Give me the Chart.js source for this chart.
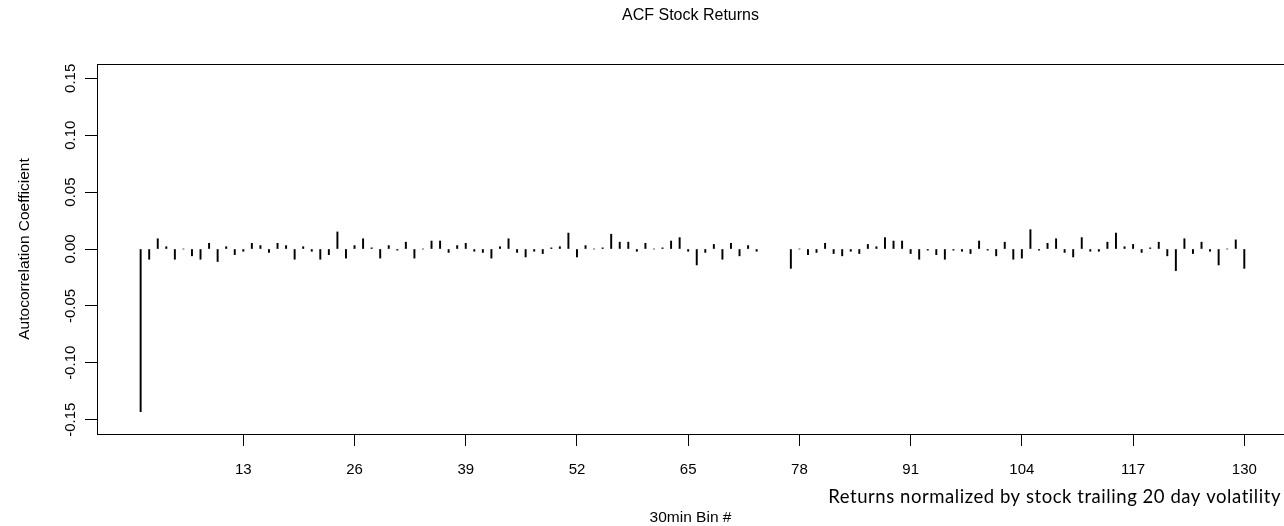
<!DOCTYPE html>
<html>
<head>
<meta charset="utf-8">
<script src="https://cdn.jsdelivr.net/npm/chart.js@4.4.1/dist/chart.umd.min.js"></script>
<style>
  html, body { margin: 0; padding: 0; background: #fff; }
  #wrap { width: 1284px; height: 526px; overflow: hidden; }
</style>
</head>
<body>
<div id="wrap"><canvas id="acf" width="1284" height="526"></canvas></div>
<script>
// Lag index (30-minute bins) and sample autocorrelation at each lag
const lags = Array.from({ length: 130 }, (_, i) => i + 1);
const acf = [
  -0.143, -0.009,  0.009,  0.002, -0.009,  0.000, -0.006, -0.009,  0.005, -0.011,
   0.002, -0.005, -0.002,  0.005,  0.003, -0.003,  0.005,  0.003, -0.009,  0.002,
  -0.002, -0.009, -0.005,  0.015, -0.008,  0.003,  0.009,  0.001, -0.008,  0.003,
  -0.001,  0.006, -0.008,  0.000,  0.007,  0.007, -0.003,  0.003,  0.005, -0.002,
  -0.003, -0.008,  0.002,  0.009, -0.003, -0.007, -0.002, -0.004,  0.001,  0.002,
   0.014, -0.007,  0.003,  0.000,  0.001,  0.013,  0.006,  0.006, -0.002,  0.005,
   0.000,  0.001,  0.007,  0.010, -0.002, -0.014, -0.003,  0.004, -0.009,  0.005,
  -0.006,  0.003, -0.002,   null,   null,   null, -0.017,  0.000, -0.005, -0.003,
   0.005, -0.004, -0.006, -0.002, -0.004,  0.004,  0.002,  0.010,  0.007,  0.007,
  -0.004, -0.009, -0.001, -0.005, -0.009, -0.001, -0.002, -0.004,  0.007, -0.001,
  -0.006,  0.006, -0.009, -0.008,  0.017, -0.001,  0.005,  0.009, -0.003, -0.007,
   0.010, -0.002, -0.002,  0.006,  0.014,  0.002,  0.004, -0.003,  0.001,  0.006,
  -0.006, -0.019,  0.009, -0.004,  0.006, -0.002, -0.014,  0.000,  0.008, -0.017
];
const xTicks = [13, 26, 39, 52, 65, 78, 91, 104, 117, 130];
const yTicks = [-0.15, -0.10, -0.05, 0.00, 0.05, 0.10, 0.15];

const chartTitle = 'ACF Stock Returns';
const xTitle = '30min Bin #';
const yTitle = 'Autocorrelation Coefficient';
const note = 'Returns normalized by stock trailing 20 day volatility';

const baseFont = 'Liberation Sans, Arial, sans-serif';

// Frame around the plotting region plus the footnote
const framePlugin = {
  id: 'frame',
  afterDraw(chart) {
    const { ctx, chartArea: a } = chart;
    ctx.save();
    ctx.strokeStyle = '#000';
    ctx.lineWidth = 1;
    ctx.strokeRect(Math.round(a.left) + 0.5, Math.round(a.top) + 0.5,
                   Math.round(a.right - a.left), Math.round(a.bottom - a.top));
    ctx.fillStyle = '#000';
    ctx.font = '18.5px Lato, sans-serif';
    if ('letterSpacing' in ctx) ctx.letterSpacing = '0.55px';
    ctx.textAlign = 'right';
    ctx.textBaseline = 'middle';
    ctx.fillText(note, 1281, 497);
    ctx.restore();
  }
};

const axisGrid = {
  display: true,
  drawOnChartArea: false,
  drawTicks: true,
  tickLength: 12,
  color: '#000',
  lineWidth: 1,
  offset: false
};

new Chart(document.getElementById('acf'), {
  type: 'bar',
  data: {
    datasets: [{
      data: lags.map((l, i) => ({ x: l, y: acf[i] })),
      backgroundColor: '#000',
      borderWidth: 0,
      barThickness: 1.3
    }]
  },
  options: {
    responsive: false,
    animation: false,
    devicePixelRatio: 1,
    layout: { padding: { left: 0, right: 0, top: 0, bottom: 0 } },
    plugins: {
      legend: { display: false },
      tooltip: { enabled: false },
      title: {
        display: true,
        text: chartTitle,
        fullSize: false,
        color: '#000',
        font: { family: baseFont, size: 16, weight: 'normal' },
        padding: { top: 6, bottom: 38.8 }
      }
    },
    scales: {
      x: {
        type: 'linear',
        min: -4.1,
        max: 134.64,
        offset: false,
        afterBuildTicks: s => { s.ticks = xTicks.map(v => ({ value: v })); },
        afterFit: s => { s.height = 92; },
        grid: axisGrid,
        border: { display: true, color: '#000', width: 1 },
        ticks: {
          color: '#000',
          font: { family: baseFont, size: 15 },
          padding: 15,
          autoSkip: false,
          minRotation: 0,
          maxRotation: 0,
          callback: v => String(v)
        },
        title: {
          display: true,
          text: xTitle,
          color: '#000',
          font: { family: baseFont, size: 15.5 },
          padding: { top: 0, bottom: -1 }
        }
      },
      y: {
        min: -0.1626,
        max: 0.1626,
        afterBuildTicks: s => { s.ticks = yTicks.map(v => ({ value: v })); },
        afterFit: s => { s.width = 97; },
        grid: axisGrid,
        border: { display: true, color: '#000', width: 1 },
        ticks: {
          color: '#000',
          font: { family: baseFont, size: 15 },
          padding: -3,
          minRotation: 90,
          maxRotation: 90,
          crossAlign: 'center',
          autoSkip: false,
          callback: v => v.toFixed(2)
        },
        title: {
          display: true,
          text: yTitle,
          color: '#000',
          font: { family: baseFont, size: 15.5 },
          padding: { top: 15, bottom: 0 }
        }
      }
    }
  },
  plugins: [framePlugin]
});
</script>
</body>
</html>
